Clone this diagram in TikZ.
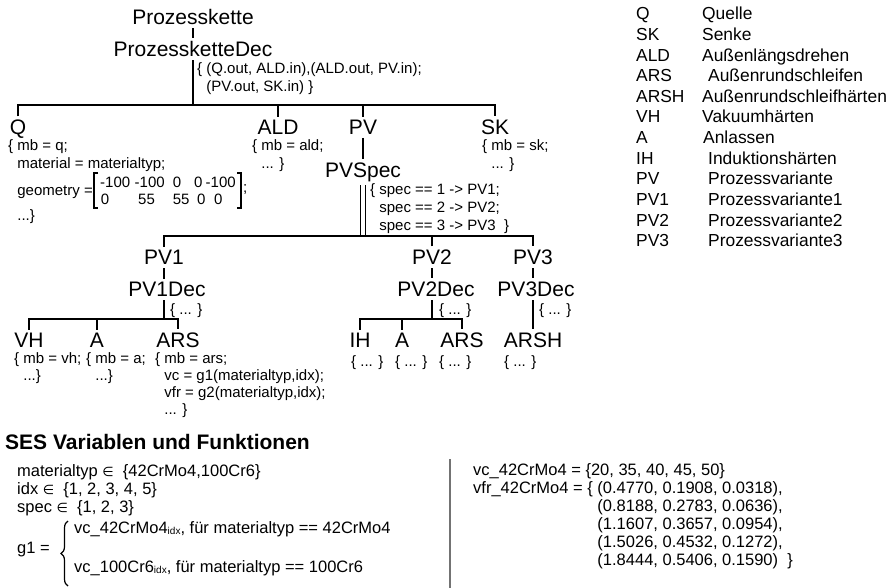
\documentclass[tikz,border=0pt]{standalone}
\usepackage{fontspec}
\setmainfont{Liberation Sans}
\newfontfamily\dejavu{DejaVu Sans}
\usetikzlibrary{decorations.pathreplacing}
\newcommand\sbx[1]{\raisebox{-1.5pt}{\fontsize{10}{10}\selectfont #1}}
\newcommand\elem{{\dejavu\fontsize{13}{13}\selectfont ∈}}
\tikzset{
 big/.style={font=\fontsize{21}{25}\selectfont, inner sep=0pt, outer sep=3.5pt, anchor=base},
 sm/.style={font=\fontsize{15}{17}\selectfont, inner sep=0pt, anchor=base west},
 lg/.style={font=\fontsize{17.4}{20}\selectfont, inner sep=0pt, anchor=base west},
 bt/.style={font=\fontsize{16.5}{18}\selectfont, inner sep=0pt, anchor=base west},
 ln/.style={line width=1.8pt},
 brk/.style={line width=1.3pt},
}
\begin{document}
\begin{tikzpicture}[x=1pt,y=-1pt]
\useasboundingbox (0,0) rectangle (888,588);
% ---------- tree nodes
\node[big] (pk) at (193,24.5) {Prozesskette};
\node[big] (pkdec) at (193,56.5) {ProzessketteDec};
\node[big] (q) at (18,134.5) {Q};
\node[big] (ald) at (278,134.5) {ALD};
\node[big] (pv) at (363,134.5) {PV};
\node[big] (sk) at (495,134.5) {SK};
\node[big] (pvspec) at (363,177.5) {PVSpec};
\node[big] (pv1) at (164,264.5) {PV1};
\node[big] (pv2) at (432,264.5) {PV2};
\node[big] (pv3) at (533,264.5) {PV3};
\node[big] (pv1dec) at (167,296.5) {PV1Dec};
\node[big] (pv2dec) at (436,296.5) {PV2Dec};
\node[big] (pv3dec) at (536,296.5) {PV3Dec};
\node[big] (vh) at (29,347.5) {VH};
\node[big] (a1) at (97,347.5) {A};
\node[big] (ars1) at (178,347.5) {ARS};
\node[big] (ih) at (360,347.5) {IH};
\node[big] (a2) at (402,347.5) {A};
\node[big] (ars2) at (462,347.5) {ARS};
\node[big] (arsh) at (533,347.5) {ARSH};
\coordinate (b0) at (193,105);
\coordinate (b2) at (363,236);
\coordinate (b3) at (164,319);
\coordinate (b4) at (432,319);
% ---------- connectors
\draw[line width=1.5pt, double, double distance=3.5pt] (pvspec.south) -- (pvspec.south |- b2);
\draw[ln] (pk.south) -- (pkdec.north);
\draw[ln] (pkdec.south) -- (b0);
\draw[ln] (q.north) |- (b0) -| (sk.north);
\draw[ln] (ald.north) -- (ald.north |- b0);
\draw[ln] (pv.north) -- (pv.north |- b0);
\draw[ln] (pv.south) -- (pvspec.north);
\draw[ln] (pv1.north) |- (b2) -| (pv3.north);
\draw[ln] (pv2.north) -- (pv2.north |- b2);
\draw[ln] (pv1.south) -- (pv1.south |- pv1dec.north);
\draw[ln] (pv2.south) -- (pv2.south |- pv2dec.north);
\draw[ln] (pv3.south) -- (pv3.south |- pv3dec.north);
\draw[ln] (pv1dec.south -| pv1.south) -- (b3);
\draw[ln] (vh.north) |- (b3) -| (ars1.north);
\draw[ln] (a1.north) -- (a1.north |- b3);
\draw[ln] (pv2dec.south -| pv2.south) -- (b4);
\draw[ln] (ih.north) |- (b4) -| (ars2.north);
\draw[ln] (a2.north) -- (a2.north |- b4);
\draw[ln] (pv3dec.south -| pv3.south) -- (arsh.north);
% ---------- annotations
\node[sm] (pkl1) at (197,74) {\{ (Q.out, ALD.in),(ALD.out, PV.in);};
\node[sm] (pkl2) at (197,92) {\phantom{\{ }(PV.out, SK.in) \}};
\node[sm] (q1) at (8,151) {\{ mb = q;};
\node[sm] (q2) at (8,169) {\phantom{\{ }material = materialtyp;};
\node[sm] (q3) at (8,195.5) {\phantom{\{ }geometry =};
\node[sm] (m11) at (100,187.5) {-100};
\node[sm] (m12) at (134.5,187.5) {-100};
\node[sm] (m13) at (172.6,187.5) {0};
\node[sm] (m14) at (194,187.5) {0};
\node[sm] (m15) at (205.5,187.5) {-100};
\node[sm] (m21) at (100.6,204.5) {0};
\node[sm] (m22) at (138,204.5) {55};
\node[sm] (m23) at (172.6,204.5) {55};
\node[sm] (m24) at (197,204.5) {0};
\node[sm] (m25) at (214,204.5) {0};
\draw[brk] (98,173) -- (94,173) -- (94,208) -- (98,208);
\draw[brk] (237,173) -- (241,173) -- (241,208) -- (237,208);
\node[sm] (qsemi) at (243,193) {;};
\node[sm] (q4) at (8,220) {\phantom{\{ }...\}};
\node[sm] (ald1) at (252,151) {\{ mb = ald;};
\node[sm] (ald2) at (252,169) {\phantom{\{ }... \}};
\node[sm] (sk1) at (482,151) {\{ mb = sk;};
\node[sm] (sk2) at (482,169) {\phantom{\{ }... \}};
\node[sm] (sp1) at (370,194) {\{ spec == 1 -> PV1;};
\node[sm] (sp2) at (370,212) {\phantom{\{ }spec == 2 -> PV2;};
\node[sm] (sp3) at (370,230) {\phantom{\{ }spec == 3 -> PV3\ \ \}};
\node[sm] (d1) at (170,314) {\{ ... \}};
\node[sm] (d2) at (439,314) {\{ ... \}};
\node[sm] (d3) at (539,314) {\{ ... \}};
\node[sm] (vh1) at (14,363) {\{ mb = vh;};
\node[sm] (vh2) at (14,380) {\phantom{\{ }...\}};
\node[sm] (a11) at (86,363) {\{ mb = a;};
\node[sm] (a12) at (86,380) {\phantom{\{ }...\}};
\node[sm] (ar1) at (155,363) {\{ mb = ars;};
\node[sm] (ar2) at (155,380) {\phantom{\{ }vc = g1(materialtyp,idx);};
\node[sm] (ar3) at (155,397) {\phantom{\{ }vfr = g2(materialtyp,idx);};
\node[sm] (ar4) at (155,414) {\phantom{\{ }... \}};
\node[sm] (ih1) at (351,366) {\{ ... \}};
\node[sm] (a21) at (395,366) {\{ ... \}};
\node[sm] (ars21) at (439,366) {\{ ... \}};
\node[sm] (arsh1) at (504,366) {\{ ... \}};
% ---------- legend
\node[lg] (k1) at (636,20) {Q};            \node[lg] (e1) at (702,20) {Quelle};
\node[lg] (k2) at (636,40.6) {SK};         \node[lg] (e2) at (702,40.6) {Senke};
\node[lg] (k3) at (636,61.2) {ALD};        \node[lg] (e3) at (702,61.2) {Außenlängsdrehen};
\node[lg] (k4) at (636,81.8) {ARS};        \node[lg] (e4) at (708,81.8) {Außenrundschleifen};
\node[lg] (k5) at (636,102.4) {ARSH};      \node[lg] (e5) at (702,102.4) {Außenrundschleifhärten};
\node[lg] (k6) at (636,123) {VH};          \node[lg] (e6) at (702,123) {Vakuumhärten};
\node[lg] (k7) at (636,143.6) {A};         \node[lg] (e7) at (703,143.6) {Anlassen};
\node[lg] (k8) at (636,164.2) {IH};        \node[lg] (e8) at (708,164.2) {Induktionshärten};
\node[lg] (k9) at (636,184.8) {PV};        \node[lg] (e9) at (708,184.8) {Prozessvariante};
\node[lg] (k10) at (636,205.4) {PV1};      \node[lg] (e10) at (708,205.4) {Prozessvariante1};
\node[lg] (k11) at (636,226) {PV2};        \node[lg] (e11) at (708,226) {Prozessvariante2};
\node[lg] (k12) at (636,246.6) {PV3};      \node[lg] (e12) at (708,246.6) {Prozessvariante3};
% ---------- bottom
\node[font=\fontsize{21}{25}\selectfont\bfseries, inner sep=0pt, anchor=base west] (ses) at (5,449) {SES Variablen und Funktionen};
\node[bt] (v1) at (17,476) {materialtyp \elem\ \ \{42CrMo4,100Cr6\}};
\node[bt] (v2) at (17,494) {idx \elem\ \ \{1, 2, 3, 4, 5\}};
\node[bt] (v3) at (17,512) {spec \elem\ \ \{1, 2, 3\}};
\node[bt] (g1) at (17,553) {g1 =};
\draw[line width=1.2pt, decorate, decoration={brace, amplitude=7pt}] (68,586) -- (68,521);
\node[bt] (g1a) at (74,533) {vc\_42CrMo4\sbx{idx}, für materialtyp == 42CrMo4};
\node[bt] (g1b) at (74,572) {vc\_100Cr6\sbx{idx}, für materialtyp == 100Cr6};
\draw[line width=1.8pt, black!55] (450,459) -- (450,588);
\node[bt] (r1) at (473,475) {vc\_42CrMo4 = \{20, 35, 40, 45, 50\}};
\node[bt] (r2) at (473,493) {vfr\_42CrMo4 = \{ (0.4770, 0.1908, 0.0318),};
\node[bt] (r3) at (473,511) {\phantom{vfr\_42CrMo4 = \{ }(0.8188, 0.2783, 0.0636),};
\node[bt] (r4) at (473,529) {\phantom{vfr\_42CrMo4 = \{ }(1.1607, 0.3657, 0.0954),};
\node[bt] (r5) at (473,547) {\phantom{vfr\_42CrMo4 = \{ }(1.5026, 0.4532, 0.1272),};
\node[bt] (r6) at (473,565) {\phantom{vfr\_42CrMo4 = \{ }(1.8444, 0.5406, 0.1590)\ \ \}};
\end{tikzpicture}
\end{document}
